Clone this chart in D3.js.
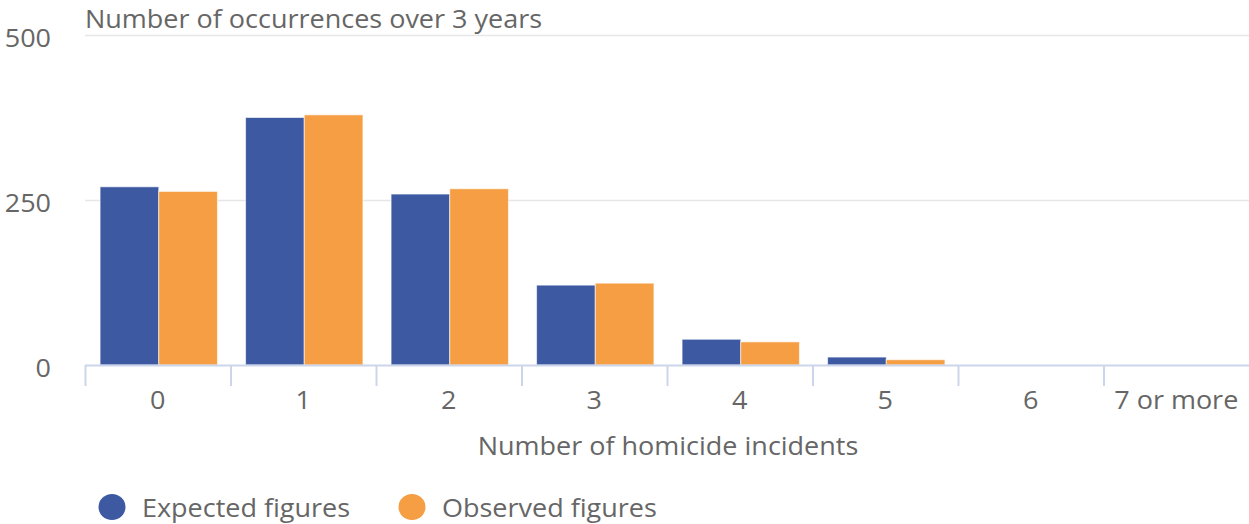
<!DOCTYPE html>
<html>
<head>
<meta charset="utf-8">
<script src="https://cdn.jsdelivr.net/npm/d3@7"></script>
<style>
  html, body { margin: 0; padding: 0; background: #fff; }
  svg { display: block; font-family: "Open Sans", sans-serif; }
</style>
</head>
<body>
<svg id="chart" width="1249" height="524"></svg>
<script>
// Distribution of homicide incidents per period: expected vs observed counts
const categories = ["0", "1", "2", "3", "4", "5", "6", "7 or more"];
const expected = [270, 375, 259, 121, 39, 12, 0, 0];
const observed = [263, 379, 267, 124, 35, 8, 0, 0];
const seriesNames = ["Expected figures", "Observed figures"];
const yTicks = [0, 250, 500];

const colors = ["#3d59a1", "#f59e43"];
const textColor = "#666666";
const fontSize = "25px";
const stretchX = 1.08;

const svg = d3.select("#chart");
const x0 = 85, x1 = 1249, yTop = 35, yBase = 365;

const x = d3.scaleBand().domain(categories).range([x0, x1]).paddingInner(0).paddingOuter(0);
const xs = d3.scaleBand().domain([0, 1]).range([0, x.bandwidth()]).paddingOuter(0.24).paddingInner(0);
const y = d3.scaleLinear().domain([0, 500]).range([yBase, yTop]);

// text placed at an anchor point, slightly widened horizontally
function label(parent, tx, ty, str, anchor) {
  return parent.append("text")
    .attr("transform", `translate(${tx},${ty}) scale(${stretchX},1)`)
    .attr("text-anchor", anchor || "start")
    .attr("fill", textColor)
    .style("font-size", fontSize)
    .text(str);
}

// Gridlines
svg.append("g")
  .selectAll("line")
  .data(yTicks.filter(d => d > 0))
  .join("line")
  .attr("x1", x0).attr("x2", x1)
  .attr("y1", d => Math.round(y(d)) + 0.5)
  .attr("y2", d => Math.round(y(d)) + 0.5)
  .attr("stroke", "#e6e6e6")
  .attr("stroke-width", 1.5);

// Y tick labels
const gy = svg.append("g");
yTicks.forEach(t => label(gy, 51, y(t) + 12, t, "end"));

// Y axis title
label(svg, 85, 28, "Number of occurrences over 3 years");

// Bars
const rows = categories.map((c, i) => ({ c, vals: [expected[i], observed[i]] }));
const groups = svg.append("g")
  .selectAll("g")
  .data(rows)
  .join("g")
  .attr("transform", d => `translate(${x(d.c)},0)`);

groups.selectAll("rect")
  .data(d => d.vals.map((v, k) => ({ v, k })))
  .join("rect")
  .attr("x", d => xs(d.k) + 1)
  .attr("width", xs.bandwidth())
  .attr("y", d => y(d.v))
  .attr("height", d => Math.max(0, yBase - y(d.v)))
  .attr("fill", d => colors[d.k])
  .attr("stroke", "#ffffff")
  .attr("stroke-opacity", 0.6)
  .attr("stroke-width", 1);

// X axis line, band separators and category labels
const gx = svg.append("g").attr("transform", `translate(0,${yBase})`);
gx.append("line")
  .attr("x1", x0).attr("x2", x1)
  .attr("y1", 0.5).attr("y2", 0.5)
  .attr("stroke", "#ccd6eb").attr("stroke-width", 2);
gx.selectAll(".sep")
  .data(categories)
  .join("line")
  .attr("class", "sep")
  .attr("x1", d => x(d) + 0.5).attr("x2", d => x(d) + 0.5)
  .attr("y1", 0).attr("y2", 21)
  .attr("stroke", "#ccd6eb").attr("stroke-width", 2);
categories.forEach(c => label(gx, x(c) + x.bandwidth() / 2, 44, c, "middle"));

// X axis title
label(svg, 668, 455, "Number of homicide incidents", "middle");

// Legend
const legendX = [112, 412];
seriesNames.forEach((name, i) => {
  const g = svg.append("g").attr("transform", `translate(${legendX[i]},507)`);
  g.append("ellipse").attr("rx", 13.5).attr("ry", 13).attr("fill", colors[i]);
  label(g, 30, 10, name);
});
</script>
</body>
</html>
